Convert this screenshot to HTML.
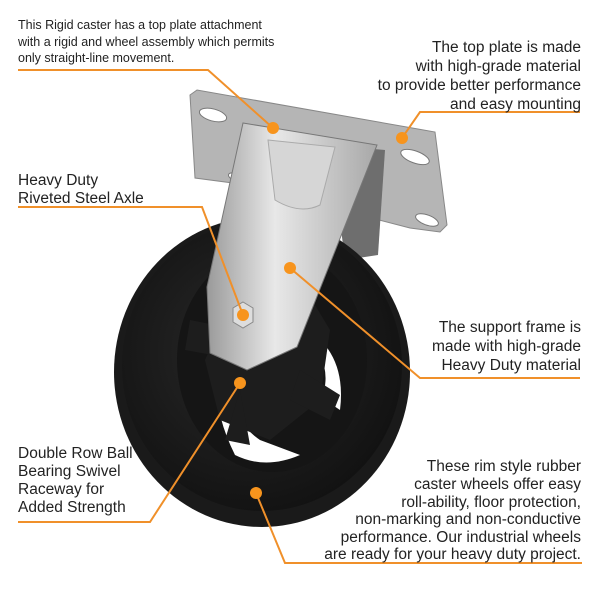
<!DOCTYPE html>
<html><head><style>
body{margin:0;background:#fff}
svg text{font-family:"Liberation Sans",sans-serif;fill:#222}
</style></head><body>
<svg width="600" height="600" viewBox="0 0 600 600" xmlns="http://www.w3.org/2000/svg">
<defs>
<linearGradient id="st" x1="0" y1="0" x2="1" y2="0">
<stop offset="0" stop-color="#9a9a9a"/><stop offset=".4" stop-color="#e8e8e8"/><stop offset="1" stop-color="#a8a8a8"/>
</linearGradient>
<radialGradient id="wh" cx=".45" cy=".45" r=".6">
<stop offset="0" stop-color="#2a2a2a"/><stop offset="1" stop-color="#111"/>
</radialGradient>
</defs>
<polygon points="190,95 197,90 435,132 447,225 440,232 410,228 360,215 248,185 195,178" fill="#b5b5b5" stroke="#888"/>
<ellipse cx="213" cy="115" rx="14" ry="6" fill="#fff" stroke="#777" transform="rotate(15 213 115)"/>
<ellipse cx="415" cy="157" rx="15" ry="6" fill="#fff" stroke="#777" transform="rotate(20 415 157)"/>
<ellipse cx="427" cy="220" rx="12" ry="5" fill="#fff" stroke="#777" transform="rotate(20 427 220)"/>
<ellipse cx="238" cy="178" rx="10" ry="4" fill="#fff" stroke="#777" transform="rotate(20 238 178)"/>
<polygon points="330,145 385,150 378,255 345,260" fill="#6e6e6e"/>
<ellipse cx="262" cy="372" rx="148" ry="155" fill="#1a1a1a"/>
<ellipse cx="262" cy="366" rx="140" ry="145" fill="url(#wh)"/>
<ellipse cx="272" cy="360" rx="95" ry="112" fill="#151515"/>
<path d="M222 340 Q205 395 235 455 Q265 470 300 455 L260 440 Q230 420 232 380 Z" fill="#fff"/>
<path d="M325 345 Q345 370 340 410 L322 398 Q330 375 320 355 Z" fill="#fff"/>
<path d="M232 300 L300 280 L330 330 L320 400 L270 440 L220 420 L205 360 Z" fill="#1d1d1d"/>
<path d="M190 320 L240 330 L240 360 L185 350Z M300 370 L340 395 L330 420 L290 400Z M240 390 L250 445 L225 440Z" fill="#1d1d1d"/>
<polygon points="243,123 377,145 297,347 247,370 210,353 207,287" fill="url(#st)" stroke="#777"/>
<path d="M268 140 L335 147 L320 205 Q300 215 275 200 Z" fill="#d6d6d6" stroke="#aaa"/>
<polygon points="243,302 253,308 253,322 243,328 233,322 233,308" fill="#ddd" stroke="#888"/>
<g stroke="#f0902a" stroke-width="2" fill="none">
<polyline points="18,70 208,70 273,128"/>
<polyline points="580,112 420,112 402,138"/>
<polyline points="18,207 202,207 243,315"/>
<polyline points="290,268 420,378 580,378"/>
<polyline points="18,522 150,522 240,383"/>
<polyline points="256,493 285,563 582,563"/>
</g>
<g fill="#f7941d">
<circle cx="273" cy="128" r="6"/><circle cx="402" cy="138" r="6"/>
<circle cx="243" cy="315" r="6"/><circle cx="290" cy="268" r="6"/>
<circle cx="240" cy="383" r="6"/><circle cx="256" cy="493" r="6"/>
</g>
<g font-size="12.5">
<text x="18" y="29">This Rigid caster has a top plate attachment</text>
<text x="18" y="46">with a rigid and wheel assembly which permits</text>
<text x="18" y="62">only straight-line movement.</text>
</g>
<g font-size="15.5" text-anchor="end">
<text x="581" y="52">The top plate is made</text>
<text x="581" y="71">with high-grade material</text>
<text x="581" y="90">to provide better performance</text>
<text x="581" y="109">and easy mounting</text>
<text x="581" y="332">The support frame is</text>
<text x="581" y="351">made with high-grade</text>
<text x="581" y="370">Heavy Duty material</text>
<text x="581" y="471">These rim style rubber</text>
<text x="581" y="489">caster wheels offer easy</text>
<text x="581" y="507">roll-ability, floor protection,</text>
<text x="581" y="524">non-marking and non-conductive</text>
<text x="581" y="542">performance. Our industrial wheels</text>
<text x="581" y="559">are ready for your heavy duty project.</text>
</g>
<g font-size="15.5">
<text x="18" y="185">Heavy Duty</text>
<text x="18" y="203">Riveted Steel Axle</text>
<text x="18" y="458">Double Row Ball</text>
<text x="18" y="476">Bearing Swivel</text>
<text x="18" y="494">Raceway for</text>
<text x="18" y="512">Added Strength</text>
</g>
</svg>
</body></html>
